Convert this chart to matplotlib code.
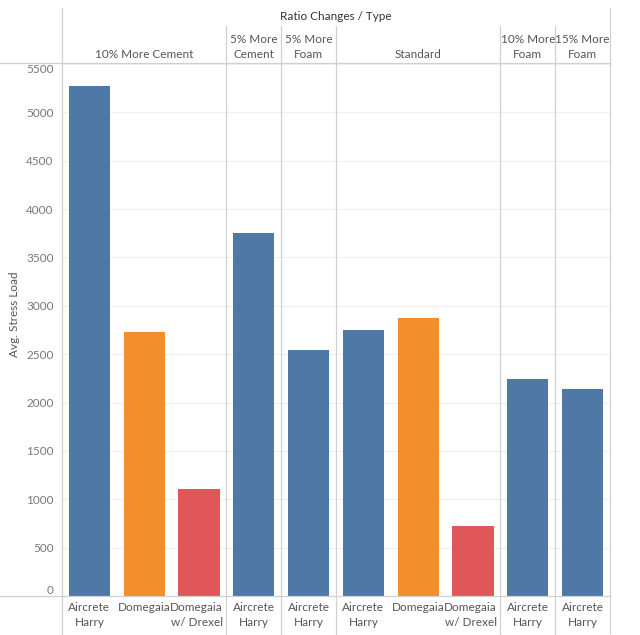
import matplotlib.pyplot as plt
import matplotlib.transforms as mtransforms
from matplotlib.lines import Line2D

plt.rcParams["font.family"] = ["Lato", "DejaVu Sans"]

# data
groups = ["10% More Cement", "5% More\nCement", "5% More\nFoam", "Standard",
          "10% More\nFoam", "15% More\nFoam"]
group_types = [
    ["Aircrete\nHarry", "Domegaia", "Domegaia\nw/ Drexel"],
    ["Aircrete\nHarry"],
    ["Aircrete\nHarry"],
    ["Aircrete\nHarry", "Domegaia", "Domegaia\nw/ Drexel"],
    ["Aircrete\nHarry"],
    ["Aircrete\nHarry"],
]
group_values = [
    [5270, 2730, 1110],
    [3755],
    [2540],
    [2750, 2875, 720],
    [2245],
    [2135],
]
type_colors = {
    "Aircrete\nHarry": "#4e79a7",
    "Domegaia": "#f28e2b",
    "Domegaia\nw/ Drexel": "#e15759",
}
y_ticks = list(range(0, 5501, 500))

W, H = 640, 635
fig = plt.figure(figsize=(W / 100, H / 100), dpi=100)
# plot pane: x 62..610, y 64..596 (pixels from top)
ax = fig.add_axes([62 / W, 1 - 596 / H, (610 - 62) / W, (596 - 64) / H])

LINE = "#d0d0d0"
TXT = "#555555"

xs, vals, cols, labels, bounds = [], [], [], [], []
pos = 0
for types, values in zip(group_types, group_values):
    start = pos
    for t, v in zip(types, values):
        xs.append(pos)
        vals.append(v)
        cols.append(type_colors[t])
        labels.append(t)
        pos += 1
    bounds.append((start - 0.5, pos - 0.5))

ax.bar(xs, vals, width=0.75, color=cols, zorder=2)
ax.set_xlim(-0.5, pos - 0.5)
ax.set_ylim(0, 5500)
ax.set_yticks(y_ticks)
ax.set_yticklabels([str(v) for v in y_ticks])
ax.tick_params(axis="y", length=0, pad=6, labelsize=8.5, labelcolor="#777777")
tl = ax.get_yticklabels()
tl[0].set_va("bottom")
tl[-1].set_va("top")
ax.set_xticks([])
ax.grid(axis="y", color="#f0f0f0", lw=0.8, zorder=0)
for s in ax.spines.values():
    s.set_visible(False)


def fy(py):
    return 1 - py / H


fig.text(15 / W, fy(314), "Avg. Stress Load", rotation=90,
         ha="center", va="center", fontsize=8.5, color=TXT)

blend = mtransforms.blended_transform_factory(ax.transData, fig.transFigure)

# frame lines
fig.add_artist(Line2D([62 / W, 62 / W], [fy(8), fy(635)], transform=fig.transFigure,
                      color=LINE, lw=0.9))
fig.add_artist(Line2D([610 / W, 610 / W], [fy(8), fy(633)], transform=fig.transFigure,
                      color=LINE, lw=0.9))
fig.add_artist(Line2D([0, 610 / W], [fy(63), fy(63)], transform=fig.transFigure,
                      color=LINE, lw=0.9))
fig.add_artist(Line2D([0, 610 / W], [fy(596), fy(596)], transform=fig.transFigure,
                      color=LINE, lw=0.9))

# pane dividers
for lo, hi in bounds[1:]:
    fig.add_artist(Line2D([lo, lo], [fy(26), fy(635)], transform=blend,
                          color=LINE, lw=0.9))

# headers
fig.text(336 / W, fy(17), "Ratio Changes / Type", ha="center", va="center",
         fontsize=8.5, color="#333333")
for g, (lo, hi) in zip(groups, bounds):
    ax.text((lo + hi) / 2, fy(60), g, transform=blend, ha="center", va="bottom",
            fontsize=8.5, color=TXT, linespacing=1.45)

# x labels
for x, lab in zip(xs, labels):
    if "Drexel" in lab:
        ax.text(x + 0.44, fy(602), lab, transform=blend, ha="right", va="top",
                multialignment="right", fontsize=8.5, color=TXT, linespacing=1.45)
    else:
        ax.text(x, fy(602), lab, transform=blend, ha="center", va="top",
                fontsize=8.5, color=TXT, linespacing=1.45)

fig.savefig("out.png", dpi=100, facecolor="white")
